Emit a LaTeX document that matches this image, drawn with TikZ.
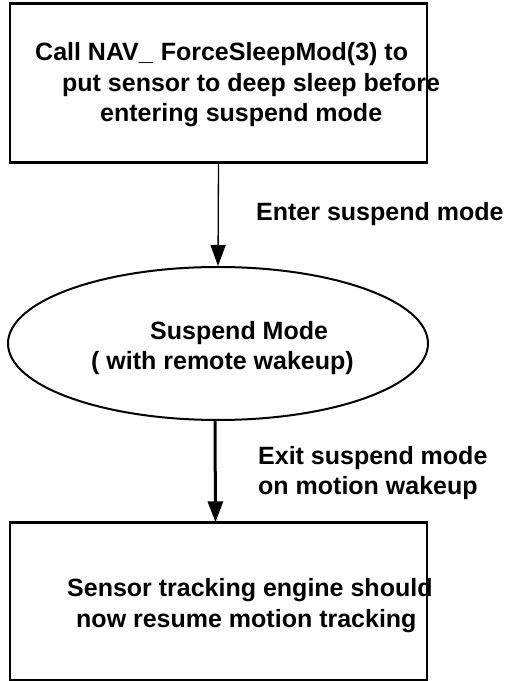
\documentclass[tikz,border=0pt]{standalone}
\usepackage{fontspec}
\setmainfont{Liberation Sans}
\usetikzlibrary{arrows.meta,shapes.geometric}
\begin{document}
\begin{tikzpicture}[x=1pt,y=1pt,
  lbl/.style={anchor=base west, inner sep=0pt, font=\fontsize{25}{30}\selectfont\bfseries},
  stepbox/.style={draw, line width=1.3pt, minimum width=417pt, inner sep=0pt},
  heavy/.style={line width=3pt},
  flow/.style={-{Triangle[width=15pt,length=21pt]}, line width=1.3pt},
  stateoval/.style={ellipse, draw, line width=2pt, minimum width=420pt,
    minimum height=153pt, inner sep=0pt}]
\useasboundingbox (0,0) rectangle (509,681);

% top step: put the sensor to sleep
\node[stepbox, minimum height=158pt] (sleep) at (218.5,598) {};
\draw[heavy] (sleep.north west) -- (sleep.north east);
\draw[heavy] (sleep.south west) -- (sleep.south east);
\node[lbl] (s1) at (35,620) {Call NAV\_\kern8pt ForceSleepMod(3) to};
\node[lbl] (s2) at (62,589) {put sensor to deep sleep before};
\node[lbl] (s3) at (100,559) {entering suspend mode};

% suspend state
\node[stateoval] (susp) at (218,337.5) {};
\node[lbl] (m1) at (150,341) {Suspend Mode};
\node[lbl] (m2) at (91,311) {( with remote wakeup)};

% bottom step: resume tracking
\node[stepbox, minimum height=157pt] (track) at (218.5,79.5) {};
\draw[heavy] (track.north west) -- (track.north east);
\node[lbl] (t1) at (67,84) {Sensor tracking engine should};
\node[lbl] (t2) at (76,53) {now resume motion tracking};

% transitions
\draw[flow] (sleep.south) -- (susp.north);
\node[lbl] (e1) at (256,460) {Enter suspend mode};
\draw[flow, line width=3pt] ([xshift=-3pt]susp.south) -- ([xshift=-3pt]track.north);
\node[lbl] (x1) at (258,216) {Exit suspend mode};
\node[lbl] (x2) at (258,186) {on motion wakeup};
\end{tikzpicture}
\end{document}
